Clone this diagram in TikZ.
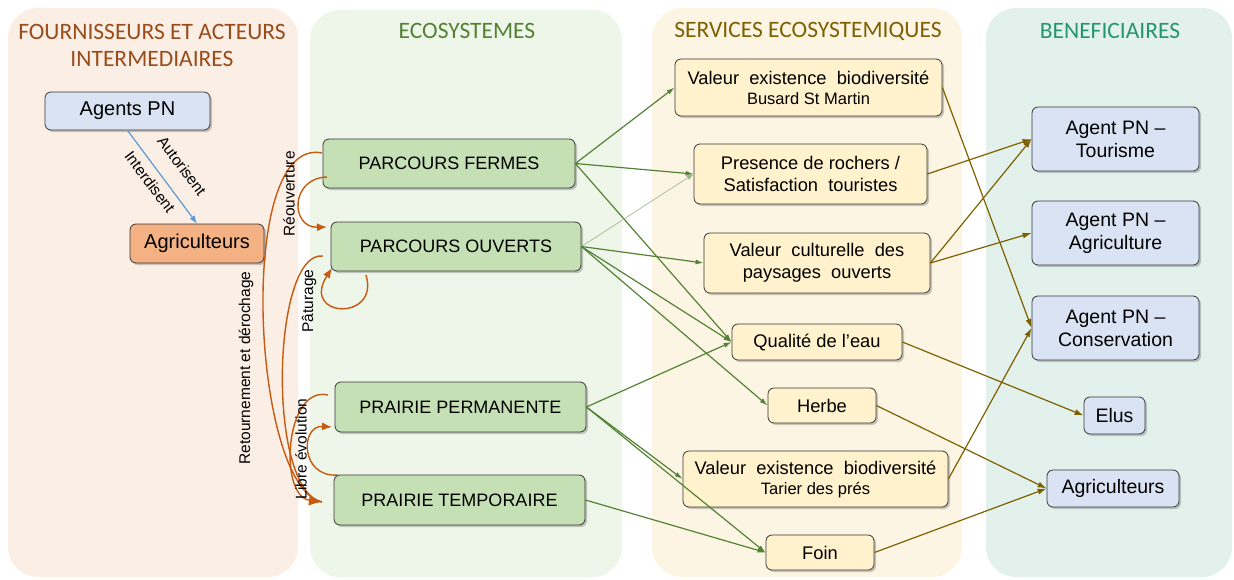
\documentclass[tikz,border=0pt]{standalone}
\usepackage{fontspec}
\setmainfont{Liberation Sans}
\newfontfamily\titlefont{Carlito}
\usetikzlibrary{arrows.meta,shadows}
\definecolor{panA}{RGB}{251,238,229}
\definecolor{panB}{RGB}{238,245,233}
\definecolor{panC}{RGB}{253,245,227}
\definecolor{panD}{RGB}{226,241,235}
\definecolor{tA}{RGB}{154,76,26}
\definecolor{tB}{RGB}{84,130,53}
\definecolor{tC}{RGB}{127,96,0}
\definecolor{tD}{RGB}{38,150,110}
\definecolor{fBlue}{RGB}{218,227,243}
\definecolor{fOrange}{RGB}{244,177,131}
\definecolor{fGreen}{RGB}{197,224,180}
\definecolor{fYellow}{RGB}{255,242,204}
\definecolor{cGreen}{RGB}{84,130,53}
\definecolor{cOlive}{RGB}{127,96,0}
\definecolor{cOrange}{RGB}{197,90,17}
\definecolor{cBlue}{RGB}{91,155,213}
\begin{document}
\begin{tikzpicture}[x=1pt,y=-1pt,
  panel/.style={rounded corners=30pt},
  ptitle/.style={font=\titlefont\fontsize{23.5}{27}\selectfont, align=center},
  box/.style={draw=black!78, line width=0.8pt, rounded corners=6pt, align=center, inner sep=0pt,
     drop shadow={shadow xshift=2pt, shadow yshift=-2pt, opacity=0.35, fill=black!60}},
  bluebox/.style={box, fill=fBlue, font=\fontsize{19.5}{23}\selectfont},
  greenbox/.style={box, fill=fGreen, font=\fontsize{18}{21}\selectfont},
  yellowbox/.style={box, fill=fYellow, font=\fontsize{18.3}{22}\selectfont},
  garrow/.style={draw=cGreen, line width=1.2pt, -{Latex[length=8pt,width=5pt]}},
  oarrow/.style={draw=cOlive, line width=1.2pt, -{Latex[length=9pt,width=6pt]}},
  rarrow/.style={draw=cOrange, line width=1.4pt, -{Latex[length=10pt,width=8pt]}},
  bigrarrow/.style={draw=cOrange, line width=1.4pt, -{Latex[length=13pt,width=11pt]}},
  rline/.style={draw=cOrange, line width=1.4pt},
  lbl/.style={font=\fontsize{15.5}{17}\selectfont, inner sep=0pt}
]
\useasboundingbox (0,0) rectangle (1234,579);
% panels
\fill[panA, panel] (8,8) rectangle (298,577);
\fill[panB, panel] (310,10) rectangle (622,577);
\fill[panC, panel] (652,8) rectangle (962,577);
\fill[panD, panel] (986,8) rectangle (1232,577);
\node[ptitle, text=tA] (tiA) at (152,45) {FOURNISSEURS ET ACTEURS\\INTERMEDIAIRES};
\node[ptitle, text=tB] (tiB) at (467,31) {ECOSYSTEMES};
\node[ptitle, text=tC] (tiC) at (808,31) {SERVICES ECOSYSTEMIQUES};
\node[ptitle, text=tD] (tiD) at (1110,31) {BENEFICIAIRES};

% actors
\node[bluebox, minimum width=165pt, minimum height=38pt, font=\fontsize{20}{23}\selectfont] (apn) at (127.5,111) {Agents\ PN};
\node[box, fill=fOrange, minimum width=134pt, minimum height=39pt, font=\fontsize{20}{23}\selectfont] (agr) at (197,243.5) {Agriculteurs};

% ecosystems
\node[greenbox, minimum width=252pt, minimum height=49pt] (pf) at (449,163.5) {PARCOURS FERMES};
\node[greenbox, minimum width=250pt, minimum height=49pt] (po) at (456,246.5) {PARCOURS OUVERTS};
\node[greenbox, minimum width=251pt, minimum height=50pt] (pp) at (460.5,407) {PRAIRIE PERMANENTE};
\node[greenbox, minimum width=251pt, minimum height=50pt] (pt) at (459.5,500) {PRAIRIE TEMPORAIRE};

% services
\node[yellowbox, minimum width=267pt, minimum height=57pt] (sbu) at (808.5,87.5) {Valeur\ \ existence\ \ biodiversité\\[-2pt]{\fontsize{16.5}{19}\selectfont Busard St Martin}};
\node[yellowbox, minimum width=233pt, minimum height=60pt] (spr) at (810.5,174) {Presence de rochers /\\Satisfaction\ \ touristes};
\node[yellowbox, minimum width=226pt, minimum height=60pt] (svc) at (817,263) {Valeur\ \ culturelle\ \ des\\paysages\ \ ouverts};
\node[yellowbox, minimum width=170pt, minimum height=36pt] (sqe) at (817,342) {Qualité\ de\ l’eau};
\node[yellowbox, minimum width=108pt, minimum height=35pt] (she) at (822,405.5) {Herbe};
\node[yellowbox, minimum width=265pt, minimum height=56pt] (sta) at (815.5,479) {Valeur\ \ existence\ \ biodiversité\\[-2pt]{\fontsize{16.5}{19}\selectfont Tarier des prés}};
\node[yellowbox, minimum width=108pt, minimum height=35pt] (sfo) at (820,552.5) {Foin};

% beneficiaries
\node[bluebox, minimum width=167pt, minimum height=64pt] (btou) at (1115.5,139) {Agent PN –\\Tourisme};
\node[bluebox, minimum width=167pt, minimum height=64pt] (bagr) at (1115.5,233) {Agent PN –\\Agriculture};
\node[bluebox, minimum width=167pt, minimum height=64pt] (bcon) at (1115.5,328) {Agent PN –\\Conservation};
\node[bluebox, minimum width=61pt, minimum height=37pt] (belu) at (1114.5,415.5) {Elus};
\node[bluebox, minimum width=132pt, minimum height=37pt] (bagri) at (1113,488.5) {Agriculteurs};

% blue arrow
\draw[draw=cBlue, line width=1.2pt, -{Latex[length=8pt,width=6pt]}] (apn.south) -- (agr.north);
\node[lbl, rotate=-53] (lau) at (182,166) {Autorisent};
\node[lbl, rotate=-53] (lin) at (150,182) {Interdisent};

% green arrows
\draw[garrow] (pf.east) -- (sbu.west);
\draw[garrow] (pf.east) -- (spr.west);
\draw[garrow] (pf.east) -- (sqe.west);
\draw[draw=cGreen!60, line width=0.6pt, -{Latex[length=7pt,width=5pt]}] (po.east) -- (spr.west);
\draw[garrow] (po.east) -- (svc.west);
\draw[garrow] (po.east) -- (sqe.west);
\draw[garrow] (po.east) -- (she.west);
\draw[garrow] (pp.east) -- (sqe.west);
\draw[garrow] (pp.east) -- (sta.west);
\draw[garrow] (pp.east) -- (sfo.west);
\draw[garrow] (pt.east) -- (sfo.west);

% olive arrows
\draw[oarrow] (sbu.east) -- (bcon.west);
\draw[oarrow] (spr.east) -- (btou.west);
\draw[oarrow] (svc.east) -- (btou.west);
\draw[oarrow] (svc.east) -- (bagr.west);
\draw[oarrow] (sqe.east) -- (belu.west);
\draw[oarrow] (she.east) -- (bagri.west);
\draw[oarrow] (sta.east) -- (bcon.west);
\draw[oarrow] (sfo.east) -- (bagri.west);

% orange curves
\coordinate (pfA) at (322,153);
\coordinate (pfB) at (327,177);
\coordinate (poA) at (327,227);
\coordinate (poB) at (323,256);
\coordinate (poC) at (366,275);
\coordinate (poD) at (332,268);
\coordinate (ppA) at (328,395);
\coordinate (ppB) at (332,427);
\coordinate (ptA) at (338,475);
\coordinate (ptB) at (322,502);
\draw[rline] (pfA) .. controls (235,135) and (252,488) .. (ptB);
\draw[rline] (poB) .. controls (272,250) and (266,490) .. (ptB);
\draw[bigrarrow] (ppA) .. controls (285,385) and (278,496) .. (ptB);
\draw[rarrow] (pfB) .. controls (290,178) and (290,228) .. (poA);
\draw[rarrow] (poC) .. controls (380,322) and (300,318) .. (poD);
\draw[rarrow] (ptA) .. controls (300,478) and (300,425) .. (ppB);
\node[lbl, rotate=90] (lre) at (289,194) {Réouverture};
\node[lbl, rotate=90] (lpa) at (309,301) {Pâturage};
\node[lbl, rotate=90] (llib) at (301,449) {Libre évolution};
\node[lbl, rotate=90] (lret) at (246,368) {Retournement et dérochage};
\end{tikzpicture}
\end{document}
